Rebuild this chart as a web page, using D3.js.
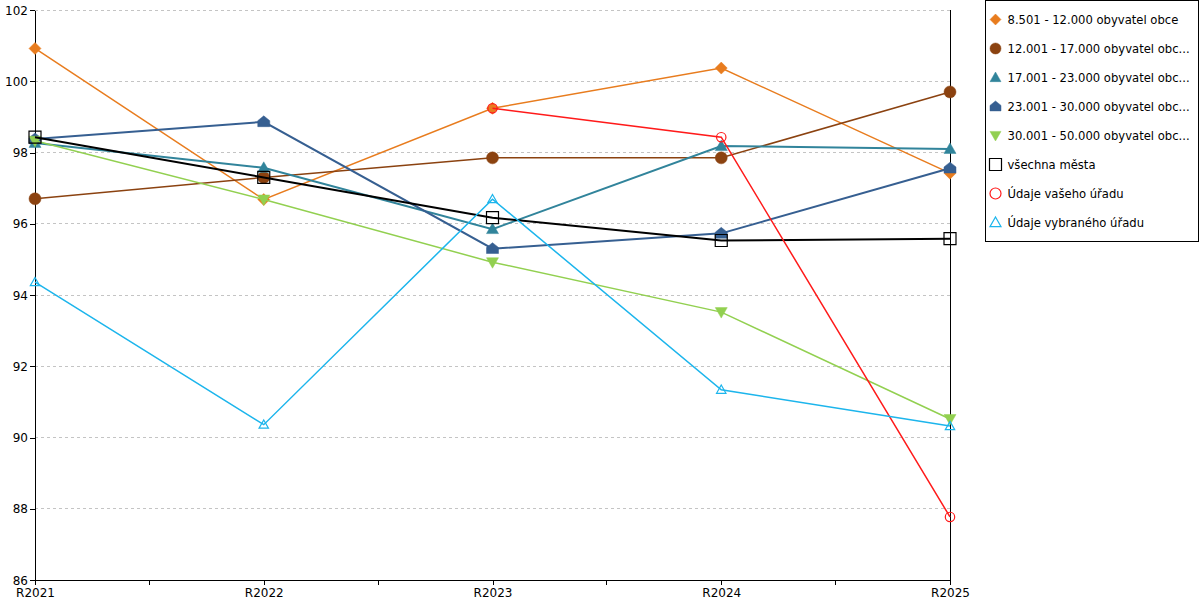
<!DOCTYPE html>
<html>
<head>
<meta charset="utf-8">
<script src="https://cdn.jsdelivr.net/npm/d3@7"></script>
<style>
  body { margin: 0; background: #fff; }
  text { font-family: "DejaVu Sans", Verdana, sans-serif; font-size: 12px; fill: #000; }
</style>
</head>
<body>
<svg id="chart"></svg>
<script>
// data
const years = ['R2021', 'R2022', 'R2023', 'R2024', 'R2025'];
const yTicks = [86, 88, 90, 92, 94, 96, 98, 100, 102];

const names = [
  '8.501 - 12.000 obyvatel obce',
  '12.001 - 17.000 obyvatel obc...',
  '17.001 - 23.000 obyvatel obc...',
  '23.001 - 30.000 obyvatel obc...',
  '30.001 - 50.000 obyvatel obc...',
  'všechna města',
  'Údaje vašeho úřadu',
  'Údaje vybraného úřadu'
];

const s8501 = [100.92, 96.68, 99.24, 100.37, 97.42];
const s12001 = [96.70, 97.30, 97.85, 97.85, 99.70];
const s17001 = [98.27, 97.57, 95.85, 98.18, 98.10];
const s23001 = [98.38, 98.86, 95.30, 95.73, 97.56];
const s30001 = [98.33, 96.68, 94.92, 93.52, 90.52];
const sAll = [98.43, 97.30, 96.17, 95.53, 95.58];
const sYours = [null, null, 99.24, 98.43, 87.77];
const sSelected = [94.36, 90.36, 96.69, 91.34, 90.32];

const seriesValues = [s8501, s12001, s17001, s23001, s30001, sAll, sYours, sSelected];
const colors = ['#e87c1e', '#8b4210', '#31849b', '#365f91', '#92d050', '#000000', '#ff1a1a', '#1cb5ec'];
const shapes = ['diamond', 'circle', 'triangle', 'house', 'triangleDown', 'square', 'circle', 'triangle'];
const hollow = [false, false, false, false, false, true, true, true];
const widths = [1.5, 1.5, 2, 2, 1.5, 2, 1.5, 1.5];

const width = 1200, height = 600;
const margin = { top: 10, right: 250, bottom: 20, left: 35 };
const plotW = width - margin.left - margin.right;
const plotH = height - margin.top - margin.bottom;

const svg = d3.select('#chart').attr('width', width).attr('height', height);
const chart = svg.append('g').attr('transform', `translate(${margin.left},${margin.top})`);

const x = d3.scalePoint().domain(years).range([0, plotW]);
const y = d3.scaleLinear().domain([86, 102]).range([plotH, 0]);

// grid
chart.append('g')
  .selectAll('line')
  .data(yTicks.filter(d => d !== 86))
  .join('line')
  .attr('x1', 0).attr('x2', plotW)
  .attr('y1', d => y(d)).attr('y2', d => y(d))
  .attr('stroke', '#c4c4c4')
  .attr('stroke-dasharray', '3,3')
  .attr('shape-rendering', 'crispEdges');

// axes
const yAxis = d3.axisLeft(y).tickValues(yTicks).tickSize(5).tickSizeOuter(0);
const yAxisG = chart.append('g').call(yAxis);
yAxisG.selectAll('text').attr('dy', '0.35em').attr('x', -7);

const xAxis = d3.axisBottom(x).tickSize(5).tickSizeOuter(0);
const xAxisG = chart.append('g').attr('transform', `translate(0,${plotH})`).call(xAxis);
xAxisG.selectAll('.tick text').attr('y', 8);

// minor ticks between categories
const step = x.step();
chart.append('g')
  .selectAll('line')
  .data(years.slice(1))
  .join('line')
  .attr('x1', d => x(d) - step / 2).attr('x2', d => x(d) - step / 2)
  .attr('y1', plotH).attr('y2', plotH + 5)
  .attr('stroke', '#000')
  .attr('shape-rendering', 'crispEdges');

chart.selectAll('.domain, .tick line').attr('stroke', '#000').attr('shape-rendering', 'crispEdges');
chart.selectAll('.tick text').style('font-family', '"DejaVu Sans", Verdana, sans-serif').style('font-size', '12px');

// right border
chart.append('line')
  .attr('x1', plotW).attr('x2', plotW)
  .attr('y1', 0).attr('y2', plotH)
  .attr('stroke', '#000')
  .attr('shape-rendering', 'crispEdges');

function markerPath(shape, r) {
  switch (shape) {
    case 'diamond':
      return `M0,${-r}L${r},0L0,${r}L${-r},0Z`;
    case 'circle':
      return d3.symbol(d3.symbolCircle, Math.PI * r * r)();
    case 'triangle':
      return `M0,${-r}L${r},${r * 0.75}L${-r},${r * 0.75}Z`;
    case 'triangleDown':
      return `M0,${r}L${r},${-r * 0.75}L${-r},${-r * 0.75}Z`;
    case 'square':
      return `M${-r},${-r}H${r}V${r}H${-r}Z`;
    case 'house':
      return `M0,${-r}L${r},${-r * 0.2}V${r * 0.8}H${-r}V${-r * 0.2}Z`;
  }
}

const line = d3.line()
  .defined(d => d.v != null)
  .x(d => x(d.year))
  .y(d => y(d.v));

seriesValues.forEach((vals, i) => {
  const pts = vals.map((v, j) => ({ year: years[j], v }));
  const g = chart.append('g');
  g.append('path')
    .datum(pts)
    .attr('d', line)
    .attr('fill', 'none')
    .attr('stroke', colors[i])
    .attr('stroke-width', widths[i]);
  const r = shapes[i] === 'square' ? 6 : (hollow[i] ? 4.7 : 6);
  g.selectAll('.mk')
    .data(pts.filter(d => d.v != null))
    .join('path')
    .attr('class', 'mk')
    .attr('transform', d => `translate(${x(d.year)},${y(d.v)})`)
    .attr('d', markerPath(shapes[i], r))
    .attr('fill', hollow[i] ? 'none' : colors[i])
    .attr('stroke', colors[i])
    .attr('stroke-width', hollow[i] ? 1.2 : 0.5);
});

// legend
const legend = svg.append('g').attr('transform', 'translate(985.5,0.5)');
legend.append('rect')
  .attr('width', 213).attr('height', 241)
  .attr('fill', '#fff').attr('stroke', '#000');

const items = legend.selectAll('.item')
  .data(names)
  .join('g')
  .attr('class', 'item')
  .attr('transform', (d, i) => `translate(10,${19 + i * 29})`);

items.append('path')
  .attr('d', (d, i) => markerPath(shapes[i], shapes[i] === 'square' ? 6 : 5.5))
  .attr('fill', (d, i) => hollow[i] ? 'none' : colors[i])
  .attr('stroke', (d, i) => colors[i])
  .attr('stroke-width', (d, i) => hollow[i] ? 1.2 : 0.5);

items.append('text')
  .attr('x', 12)
  .attr('dy', '0.35em')
  .style('font-size', '11.6px')
  .text(d => d);
</script>
</body>
</html>
